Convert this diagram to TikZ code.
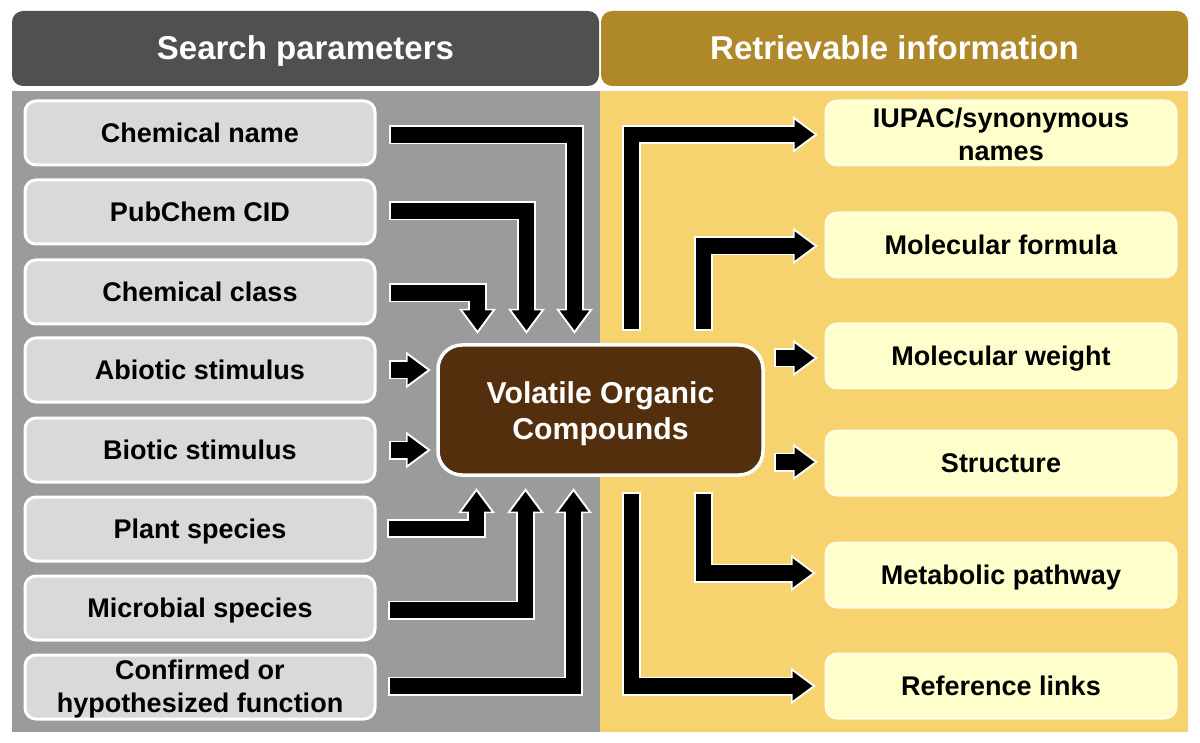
\documentclass[tikz,border=0pt]{standalone}
\usepackage{fontspec}
\setmainfont{Liberation Sans}
\usetikzlibrary{arrows.meta,calc}
\definecolor{panelgray}{HTML}{9B9B9B}
\definecolor{headgray}{HTML}{505050}
\definecolor{headgold}{HTML}{AE8829}
\definecolor{panelyellow}{HTML}{F6D36E}
\definecolor{boxgray}{HTML}{D9D9D9}
\definecolor{boxyellow}{HTML}{FFFFCC}
\definecolor{vocbrown}{HTML}{532F0E}
\newcommand{\mydrop}{3pt}
\newcommand{\dstrut}{\rule[\dimexpr-\dp\strutbox+\mydrop\relax]{0pt}{\dimexpr\ht\strutbox+\dp\strutbox\relax}}
\newcommand{\dropline}[2]{\smash{\raisebox{-#1}{#2}}}
\tikzset{
  textdrop/.code={\renewcommand{\mydrop}{#1}},
  header/.style={rounded corners=11pt,text=white,font=\bfseries\fontsize{33}{38}\selectfont,minimum height=75pt,minimum width=587pt,inner sep=0pt,execute at begin node=\dstrut},
  infobox/.style={rounded corners=11pt,draw=white,line width=3pt,font=\bfseries\fontsize{27}{33}\selectfont,text=black,minimum width=350pt,minimum height=64pt,inner sep=0pt,align=center,outer sep=0pt,execute at begin node=\dstrut,execute at end node=\dstrut},
  leftbox/.style={infobox,fill=boxgray},
  rightbox/.style={infobox,fill=boxyellow,draw=boxyellow!60!white},
  vocbox/.style={rounded corners=24pt,draw=white,line width=3.5pt,fill=vocbrown,text=white,font=\bfseries\fontsize{30.2}{36}\selectfont,align=center,minimum width=325pt,minimum height=130pt,inner sep=0pt,outer sep=0pt,execute at begin node=\dstrut,execute at end node=\dstrut},
  casing/.style={draw=white,line width=19pt,line cap=butt,line join=miter,-{Triangle[length=25pt,width=35pt]}},
  core/.style={draw=black,line width=15.5pt,line cap=butt,line join=miter,shorten <=2pt,shorten >=3.5pt,-{Triangle[length=20pt,width=28pt]}},
}
\newcommand{\blockarrow}[1]{\path[casing] #1;\path[core] #1;}
\begin{document}
\begin{tikzpicture}[x=1pt,y=-1pt]
\useasboundingbox (0,0) rectangle (1200,743);
\fill[panelgray] (12,91) rectangle (600,732);
\fill[panelyellow] (600,91) rectangle (1188,732);
\node[header,fill=headgray] (hl) at (305.5,48.5) {Search parameters};
\node[header,fill=headgold] (hr) at (894.5,48.5) {Retrievable information};
\node[leftbox] (l1) at (200,133) {Chemical name};
\node[leftbox] (l2) at (200,212) {PubChem CID};
\node[leftbox] (l3) at (200,292) {Chemical class};
\node[leftbox] (l4) at (200,370) {Abiotic stimulus};
\node[leftbox] (l5) at (200,450) {Biotic stimulus};
\node[leftbox] (l6) at (200,529) {Plant species};
\node[leftbox] (l7) at (200,608) {Microbial species};
\node[leftbox,textdrop=0pt] (l8) at (200,687) {\dropline{14pt}{Confirmed or}\\\dropline{14pt}{hypothesized function}};
\node[rightbox,textdrop=0pt] (r1) at (1001,133) {\dropline{16pt}{IUPAC/synonymous}\\\dropline{16pt}{names}};
\node[rightbox] (r2) at (1001,245) {Molecular formula};
\node[rightbox] (r3) at (1001,356) {Molecular weight};
\node[rightbox] (r4) at (1001,463) {Structure};
\node[rightbox] (r5) at (1001,575) {Metabolic pathway};
\node[rightbox] (r6) at (1001,686) {Reference links};
\node[vocbox,textdrop=0pt] (voc) at (600.5,410) {\dropline{17pt}{Volatile Organic}\\\dropline{17pt}{Compounds}};
% left arrows, top
\blockarrow{($(l1.east)+(14,2)$) -| ($(voc.north west)+(136.5,-11)$)}
\blockarrow{($(l2.east)+(14,-1)$) -| ($(voc.north west)+(88.5,-11)$)}
\blockarrow{($(l3.east)+(14,1)$) -| ($(voc.north west)+(39.5,-11)$)}
\blockarrow{($(l4.east)+(14,0)$) -- ($(voc.west)+(-7,-40)$)}
\blockarrow{($(l5.east)+(14,0)$) -- ($(voc.west)+(-7,40)$)}
\blockarrow{($(l6.east)+(12,-0.5)$) -| ($(voc.south west)+(38.5,13)$)}
\blockarrow{($(l7.east)+(13,2)$) -| ($(voc.south west)+(87.5,13)$)}
\blockarrow{($(l8.east)+(13,-1)$) -| ($(voc.south west)+(135.5,13)$)}
% right arrows
\blockarrow{($(voc.north west)+(193.5,-14)$) |- ($(r1.west)+(-8,1.5)$)}
\blockarrow{($(voc.north west)+(265.5,-14)$) |- ($(r2.west)+(-8,1)$)}
\blockarrow{($(voc.east)+(11,-52)$) -- ($(r3.west)+(-8,2)$)}
\blockarrow{($(voc.east)+(11,52)$) -- ($(r4.west)+(-8,-1)$)}
\blockarrow{($(voc.south west)+(265.5,17)$) |- ($(r5.west)+(-10,-2)$)}
\blockarrow{($(voc.south west)+(193.5,17)$) |- ($(r6.west)+(-10,0)$)}
\end{tikzpicture}
\end{document}
